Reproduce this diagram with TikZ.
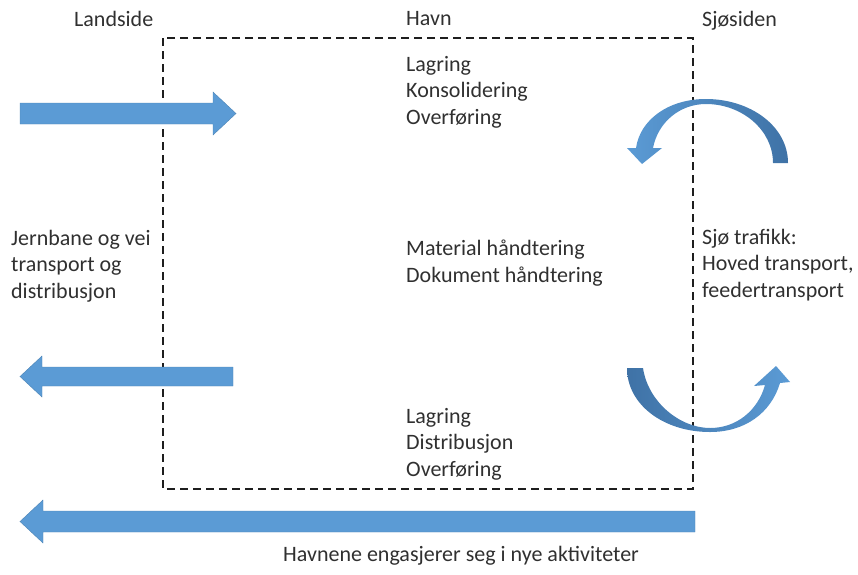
\documentclass[tikz,border=0pt]{standalone}
\usepackage{fontspec}
\setmainfont{Carlito}
\definecolor{arrblue}{HTML}{5B9BD5}
\definecolor{arrdark}{HTML}{3F72A6}
\definecolor{txtgray}{HTML}{303030}
\definecolor{boxgray}{HTML}{1E1E1E}
\begin{document}
\begin{tikzpicture}[x=1pt,y=-1pt,
  lbl/.style={anchor=north west,inner sep=0pt,align=left,text=txtgray,
    font=\fontsize{22}{26.5}\selectfont},
  straightarrow/.style={fill=arrblue,draw=arrblue!85!black,line width=0.4pt},
  curvedarrow/.style={draw=none},
  dashbox/.style={draw=boxgray,line width=2.8pt,dash pattern=on 8pt off 5pt}]
\useasboundingbox (0,0) rectangle (858,574);

% dashed port box
\draw[dashbox] (163,38) rectangle (693,489);

% headers
\node[lbl] (landside) at (74,11) {Landside};
\node[lbl] (havn) at (406,11) {Havn};
\node[lbl] (sjosiden) at (702,11) {Sjøsiden};

% text blocks
\node[lbl] (topblock) at (406,56) {Lagring\\Konsolidering\\Overføring};
\node[lbl] (midblock) at (406,240) {Material håndtering\\Dokument håndtering};
\node[lbl] (botblock) at (406,408) {Lagring\\Distribusjon\\Overføring};
\node[lbl] (leftblock) at (11,230) {Jernbane og vei\\transport og\\distribusjon};
\node[lbl] (rightblock) at (702,229) {Sjø trafikk:\\Hoved transport,\\feedertransport};
\node[lbl] (bottomtext) at (283,546) {Havnene engasjerer seg i nye aktiviteter};

% straight arrows
\path[straightarrow] (20,103) -- (213,103) -- (213,92) -- (236,113.5) -- (213,135) -- (213,124) -- (20,124) -- cycle;
\path[straightarrow] (233,367) -- (42,367) -- (42,356) -- (20,376.5) -- (42,397) -- (42,386) -- (233,386) -- cycle;
\path[straightarrow] (695,511) -- (43,511) -- (43,500) -- (20,521.5) -- (43,543) -- (43,532) -- (695,532) -- cycle;

% curved arrow top (sea side, going left/down)
\path[curvedarrow,left color=arrblue,middle color=arrblue,right color=arrdark]
  (773,163) -- (788,163)
  .. controls (788,126) and (750,99) .. (706,99)
  .. controls (668,99) and (640,120) .. (636,148)
  -- (627,148) -- (642,164) -- (662,148) -- (653,148)
  .. controls (658,122) and (680,104) .. (706,104)
  .. controls (742,104) and (773,130) .. (773,163) -- cycle;

% curved arrow bottom (going right/up)
\path[curvedarrow,left color=arrdark,middle color=arrblue,right color=arrblue]
  (627,368) -- (643,368)
  .. controls (648,402) and (680,428) .. (710,428)
  .. controls (737,428) and (758,410) .. (765,385)
  -- (754,386) -- (776,366) -- (790,382) -- (780,383)
  .. controls (771,413) and (745,432) .. (710,432)
  .. controls (664,432) and (627,405) .. (627,368) -- cycle;
\end{tikzpicture}
\end{document}
